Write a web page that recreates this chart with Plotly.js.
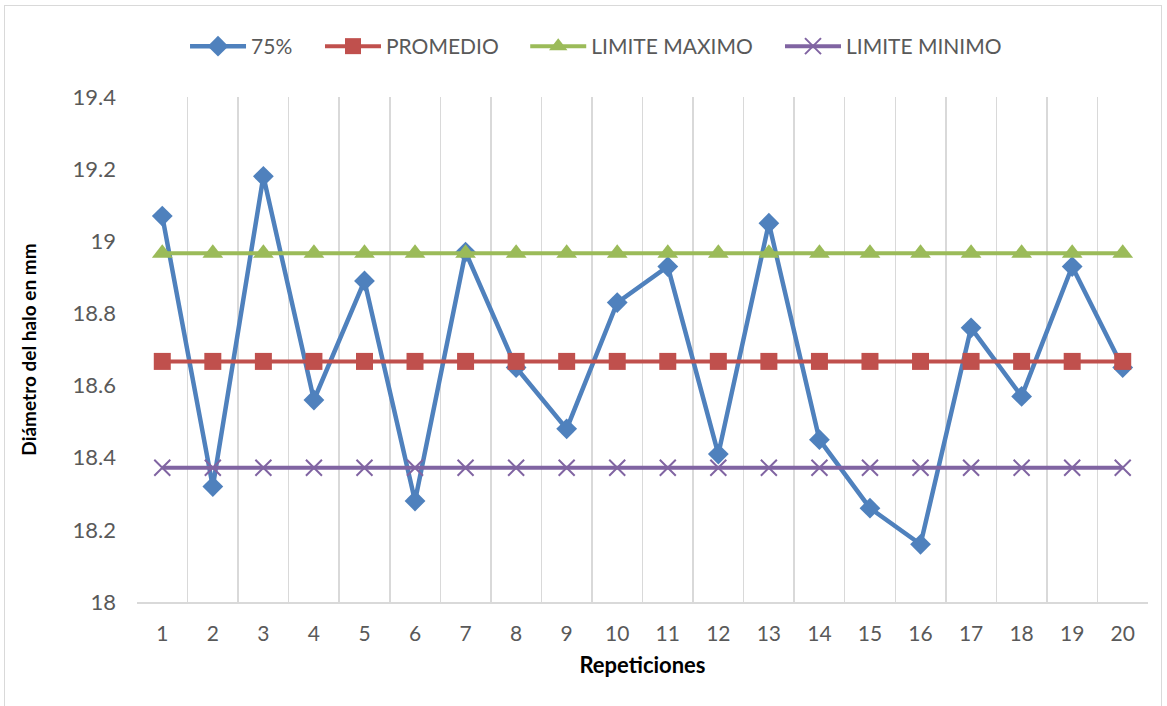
<!DOCTYPE html>
<html>
<head>
<meta charset="utf-8">
<script src="https://cdn.plot.ly/plotly-3.0.1.min.js"></script>
<style>
html,body{margin:0;padding:0;background:#fff;overflow:hidden;}
#frame{position:absolute;left:4px;top:5px;width:1158px;height:720px;border:1px solid #d9d9d9;box-sizing:border-box;}
#chart{position:absolute;left:0;top:0;width:1167px;height:706px;}
</style>
</head>
<body>
<div id="frame"></div>
<div id="chart"></div>
<script>
const categories = ["1","2","3","4","5","6","7","8","9","10","11","12","13","14","15","16","17","18","19","20"];
const seriesNames = ["75%", "PROMEDIO", "LIMITE MAXIMO", "LIMITE MINIMO"];
const valores75 = [19.07,18.32,19.18,18.56,18.89,18.28,18.97,18.65,18.48,18.83,18.93,18.41,19.05,18.45,18.26,18.16,18.76,18.57,18.93,18.65];
const promedio = [18.667,18.667,18.667,18.667,18.667,18.667,18.667,18.667,18.667,18.667,18.667,18.667,18.667,18.667,18.667,18.667,18.667,18.667,18.667,18.667];
const limiteMaximo = [18.967,18.967,18.967,18.967,18.967,18.967,18.967,18.967,18.967,18.967,18.967,18.967,18.967,18.967,18.967,18.967,18.967,18.967,18.967,18.967];
const limiteMinimo = [18.372,18.372,18.372,18.372,18.372,18.372,18.372,18.372,18.372,18.372,18.372,18.372,18.372,18.372,18.372,18.372,18.372,18.372,18.372,18.372];
const yTicks = [18, 18.2, 18.4, 18.6, 18.8, 19, 19.2, 19.4];
const yTickText = ["18", "18.2", "18.4", "18.6", "18.8", "19", "19.2", "19.4"];

const FONT = "Lato, 'Open Sans', sans-serif";

const traces = [
  {x: categories, y: valores75, name: seriesNames[0], type: "scatter", mode: "lines+markers", legend: "legend",
   line: {color: "#4f81bd", width: 4.5}, marker: {symbol: "diamond", size: 16, color: "#4f81bd"}},
  {x: categories, y: promedio, name: seriesNames[1], type: "scatter", mode: "lines+markers", legend: "legend2",
   line: {color: "#c0504d", width: 4}, marker: {symbol: "square", size: 17, color: "#c0504d"}},
  {x: categories, y: limiteMaximo, name: seriesNames[2], type: "scatter", mode: "lines+markers", legend: "legend3",
   line: {color: "#9bbb59", width: 4}, marker: {symbol: "triangle-up", size: 18, color: "#9bbb59"}},
  {x: categories, y: limiteMinimo, name: seriesNames[3], type: "scatter", mode: "lines+markers", legend: "legend4",
   line: {color: "#8064a2", width: 4}, marker: {symbol: "x-thin-open", size: 16, color: "#8064a2", line: {color: "#8064a2", width: 2}}}
];

function leg(x) {
  return {orientation: "h", x: x, xanchor: "left", y: 1.1, yanchor: "middle",
          font: {family: FONT, color: "#595959", size: 21}, itemwidth: 56, bgcolor: "rgba(0,0,0,0)"};
}

const layout = {
  width: 1167, height: 706,
  margin: {l: 137, r: 19, t: 97, b: 104},
  paper_bgcolor: "rgba(0,0,0,0)", plot_bgcolor: "rgba(0,0,0,0)",
  font: {family: FONT, color: "#595959", size: 20},
  showlegend: true,
  legend: leg(0.0475), legend2: leg(0.181), legend3: leg(0.384), legend4: leg(0.636),
  xaxis: {type: "category", tickson: "boundaries", range: [-0.5, 19.5], showgrid: true, gridcolor: "#d9d9d9", gridwidth: 1.5,
          showline: true, linecolor: "#d9d9d9", linewidth: 1.5, ticks: "", zeroline: false,
          tickfont: {family: FONT, color: "#595959", size: 21}, ticklabelstandoff: 12,
          title: {text: "Repeticiones", font: {family: FONT, color: "#000", size: 22, weight: "bold"}, standoff: 14}},
  yaxis: {range: [18, 19.4], tickvals: yTicks, ticktext: yTickText, showgrid: false, zeroline: false,
          showline: false, ticks: "", tickfont: {family: FONT, color: "#595959", size: 22},
          ticklabelstandoff: 20,
          title: {text: "Diámetro del halo en mm", font: {family: FONT, color: "#000", size: 19, weight: "bold"}, standoff: 30}}
};

Plotly.newPlot("chart", traces, layout, {displayModeBar: false, staticPlot: true});
</script>
</body>
</html>
